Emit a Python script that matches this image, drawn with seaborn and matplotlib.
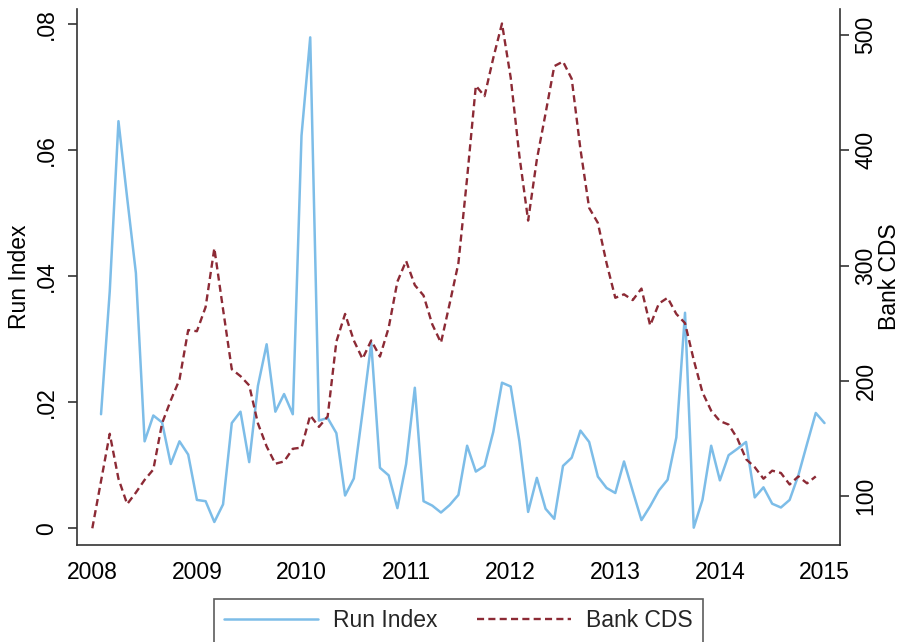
import numpy as np
import pandas as pd
import seaborn as sns
import matplotlib
matplotlib.use('Agg')
from matplotlib import pyplot as plt
from matplotlib.lines import Line2D

# monthly series
# run index: Feb 2008 - Jan 2015
run_index = [
     .0181, .0376, .0646, .0524, .0405, .0138, .0179, .0168, .0102, .0138, .0117,
     .0045, .0043, .0010, .0038, .0167, .0185, .0105, .0226, .0292, .0185, .0213, .0181,
     .0623, .0779, .0171, .0175, .0151, .0052, .0079, .0184, .0294, .0096, .0084, .0032,
     .0102, .0223, .0043, .0036, .0025, .0037, .0053, .0131, .0090, .0099, .0153, .0231,
     .0225, .0138, .0026, .0080, .0031, .0015, .0099, .0112, .0155, .0137, .0082, .0064,
     .0056, .0106, .0059, .0013, .0035, .0060, .0077, .0144, .0342, .0001, .0045, .0131,
     .0076, .0116, .0126, .0137, .0049, .0065, .0039, .0033, .0045, .0084, .0134, .0183,
     .0167,
]
# bank CDS: Jan 2008 - Dec 2014
bank_cds = [
     72, 113, 154, 115, 93, 103, 114, 123, 163, 183, 201, 244,
     243, 264, 315, 262, 210, 204, 196, 163, 143, 128, 130, 141,
     142, 170, 160, 169, 234, 258, 235, 219, 235, 221, 246, 286,
     304, 283, 274, 249, 233, 267, 302, 376, 456, 447, 480, 510,
     463, 395, 339, 392, 432, 473, 477, 462, 401, 350, 337, 302,
     272, 275, 270, 280, 248, 267, 272, 258, 250, 218, 190, 174,
     165, 162, 150, 132, 125, 115, 122, 120, 110, 117, 111, 117,
]
run_start = 2008 + 1 / 12
cds_start = 2008.0

years = [2008, 2009, 2010, 2011, 2012, 2013, 2014, 2015]
run_ticks = [0, .02, .04, .06, .08]
run_tick_labels = ['0', '.02', '.04', '.06', '.08']
cds_ticks = [100, 200, 300, 400, 500]

BLUE = '#7dbde8'
RED = '#8c2a35'
AXIS = '#333333'
FS = 16.5

df_run = pd.DataFrame({'date': run_start + np.arange(len(run_index)) / 12, 'run': run_index})
df_cds = pd.DataFrame({'date': cds_start + np.arange(len(bank_cds)) / 12, 'cds': bank_cds})

sns.set_style('white')
plt.rcParams['font.family'] = ['Liberation Sans', 'DejaVu Sans']
plt.rcParams['font.size'] = FS

fig = plt.figure(figsize=(9, 6.42), dpi=100)
ax = fig.add_axes([0.0856, 0.1511, 0.8477, 0.8349])
ax2 = ax.twinx()

sns.lineplot(x='date', y='run', data=df_run, ax=ax, color=BLUE, linewidth=1.8, legend=False)
sns.lineplot(x='date', y='cds', data=df_cds, ax=ax2, color=RED, linewidth=1.7,
             linestyle=(0, (3, 1.8)), legend=False)

ax.set_xlim(2007.854, 2015.148)
ax.set_ylim(-0.00265, 0.0824)
ax2.set_ylim(57.5, 522.6)

ax.set_xticks(years, labels=[str(y) for y in years])
ax.set_yticks(run_ticks, labels=run_tick_labels)
ax2.set_yticks(cds_ticks, labels=[str(v) for v in cds_ticks])

ax.set_xlabel('')
ax.set_ylabel('Run Index', labelpad=3, color='black')
ax2.set_ylabel('Bank CDS', labelpad=0, color='black')

for a in (ax, ax2):
     for s in a.spines.values():
          s.set_visible(False)
     a.tick_params(colors=AXIS, labelcolor='black', width=1.2, length=6.5)
ax.spines['left'].set_visible(True)
ax.spines['bottom'].set_visible(True)
ax2.spines['right'].set_visible(True)
for s in (ax.spines['left'], ax.spines['bottom'], ax2.spines['right']):
     s.set_color(AXIS)
     s.set_linewidth(1.2)

ax.tick_params(axis='x', pad=5)
ax.tick_params(axis='y', left=True, labelrotation=90, pad=7)
ax2.tick_params(axis='y', right=True, labelrotation=90, pad=4)
for lab in ax.get_yticklabels() + ax2.get_yticklabels():
     lab.set_va('center')

# legend below the plot, Stata style
handles = [Line2D([], [], color=BLUE, linewidth=1.8),
           Line2D([], [], color=RED, linewidth=1.7, linestyle=(0, (3, 1.8)))]
leg = fig.legend(handles, ['Run Index', 'Bank CDS'], loc='upper center', ncol=2,
                 bbox_to_anchor=(458.5 / 900, 1 - 599 / 642), bbox_transform=fig.transFigure,
                 frameon=True, fancybox=False, handlelength=4.1, handletextpad=0.65,
                 columnspacing=1.75, borderpad=0.45, borderaxespad=0, fontsize=FS)
leg.get_frame().set_edgecolor(AXIS)
leg.get_frame().set_linewidth(1.2)

fig.savefig('out.png', dpi=100)
